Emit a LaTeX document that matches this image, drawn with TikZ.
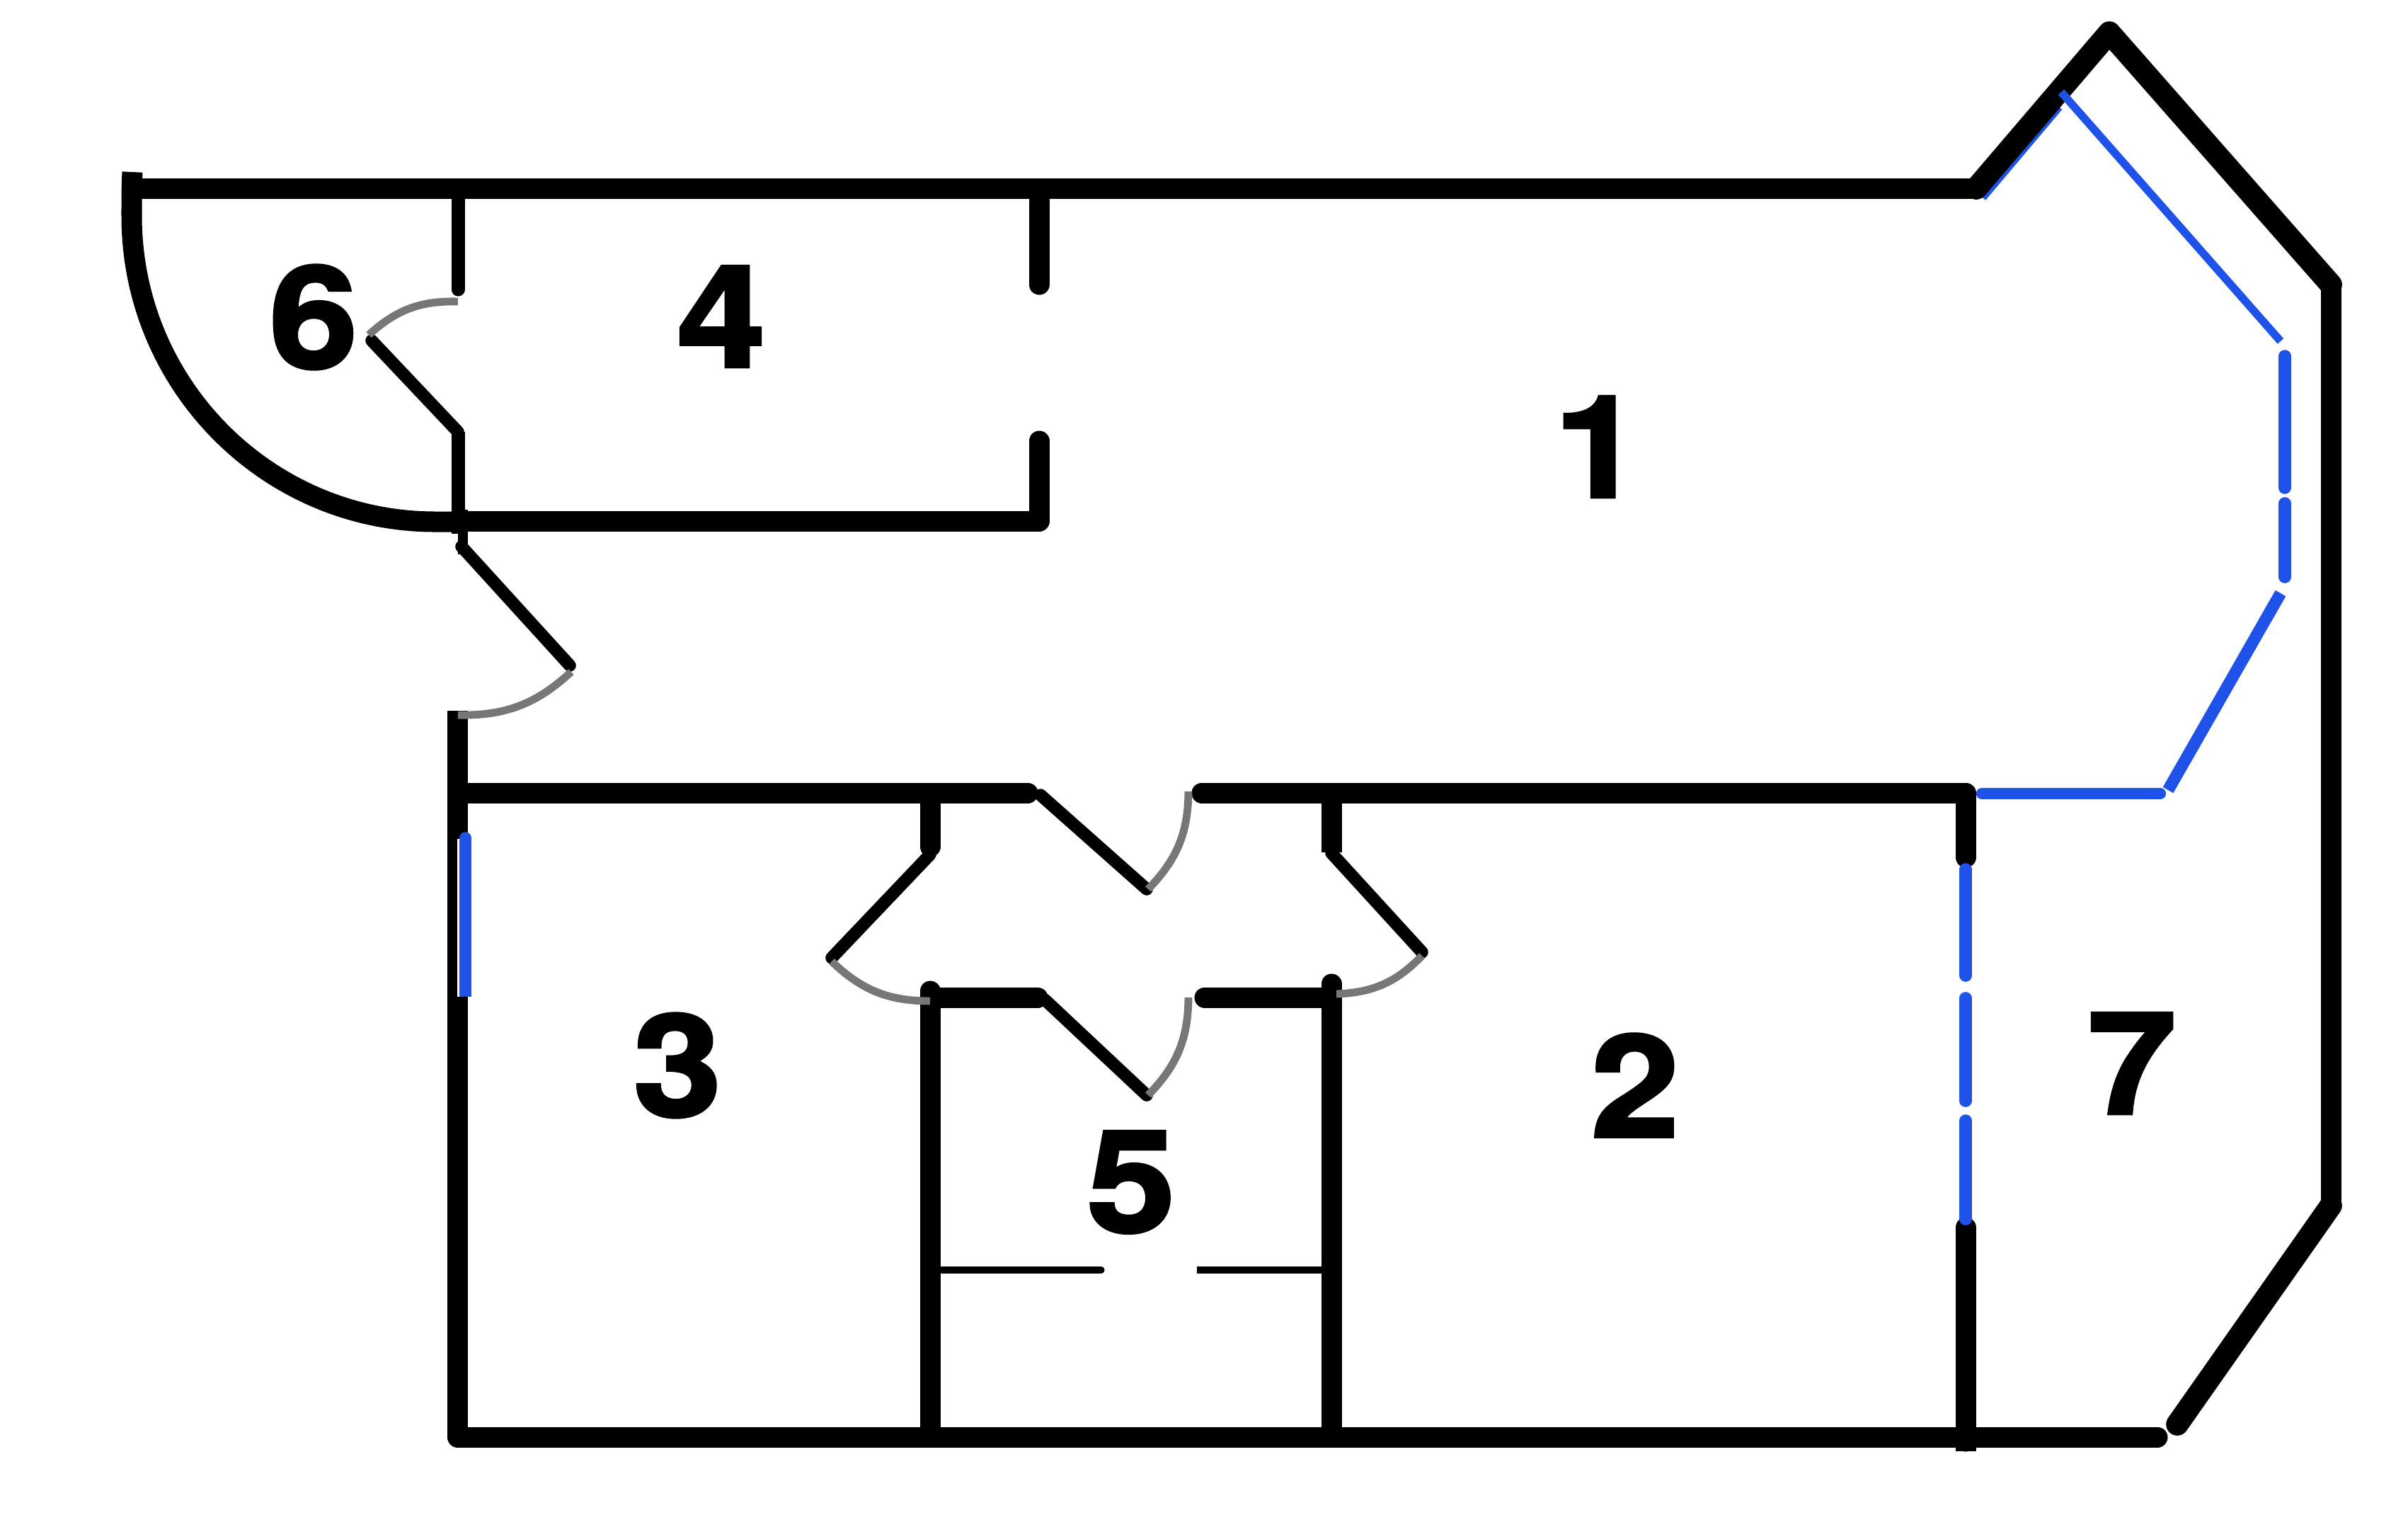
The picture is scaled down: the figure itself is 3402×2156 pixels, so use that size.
\documentclass[tikz,border=0pt]{standalone}
\usepackage{fontspec}
\newfontfamily\roomfont[BoldFeatures={FakeBold=2.2, FakeStretch=1.12}]{TeX Gyre Heros}
\definecolor{glassblue}{HTML}{1F52E8}
\definecolor{swinggray}{HTML}{777777}
\tikzset{
wall/.style={line width=8.25pt, black, line join=round},
roundwall/.style={wall, line cap=round},
diagwall/.style={line width=9pt, black, line join=round, line cap=round},
partition/.style={line width=5.4pt, black, line cap=round},
leaf/.style={line width=5pt, black, line cap=round},
thinwall/.style={line width=2.6pt, black},
swing/.style={line width=3.1pt, swinggray},
glass/.style={line width=5pt, glassblue, line cap=round},
thinglass/.style={line width=3.2pt, glassblue},
room/.style={font=\roomfont\bfseries\fontsize{57}{57}\selectfont, inner sep=0pt},
}

\begin{document}
\begin{tikzpicture}[x=0.01cm, y=-0.01cm]
\useasboundingbox (0,0) rectangle (3402,2156);
    \node[room] (room1) at (2258,631) {1};
    \node[room] (room2) at (2310,1533) {2};
    \node[room] (room3) at (957,1505) {3};
    \node[room] (room4) at (1019,447) {4};
    \node[room] (room5) at (1598,1670) {5};
    \node[room] (room6) at (443,448) {6};
    \node[room] (room7) at (3012,1502) {7};
    % glass under the outer wall
    \draw[thinglass, line width=2.4pt] (2802,280) -- (2910,152);
    % outer walls
    \draw[wall] (189,266) -- (2792,266);
    \draw[diagwall] (2792,266) -- (2980,46) -- (3293,402);
    \draw[wall] (3293,402) -- (3293,1703);
    \draw[diagwall] (3293,1703) -- (3076,2012);
    \draw[wall] (187,243) .. controls (186,262) and (186,285) .. (186,305)
        arc[start angle=180, end angle=90, x radius=429, y radius=432] -- (647,737);
    \draw[wall] (646.5,1004) -- (646.5,2030);
    \draw[roundwall] (646.5,2030) -- (3048,2030);
    % room 4 and room 6
    \draw[partition] (647,276) -- (647,409);
    \draw[partition, line cap=butt] (647,610) -- (647,754);
    \draw[partition, line cap=butt, line width=4pt] (654,720) -- (654,783);
    \draw[roundwall] (1468,280) -- (1468,402);
    \draw[roundwall] (661,736) -- (1468,736) -- (1468,623);
    \draw[leaf] (525,481) -- (647,610);
    \draw[swing] (647,426) to[bend right=22] (521,473);
    \draw[leaf] (652,772) -- (805,940);
    \draw[swing] (647,1010) to[bend right=22] (807,949);
    % middle wall
    \draw[roundwall] (646.5,1120) -- (1452,1120);
    \draw[roundwall] (1698,1120) -- (2777,1120) -- (2777,1211);
    \draw[roundwall] (1314,1132) -- (1314,1196);
    \draw[wall] (1881,1120) -- (1881,1204);
    \draw[roundwall] (2777,2036) -- (2777,1734);
    \draw[wall] (2777,2036) -- (2777,2050);
    % room 5
    \draw[roundwall] (1466,1409) -- (1328,1409);
    \draw[roundwall] (1314,1400) -- (1314,2030);
    \draw[roundwall] (1702,1409) -- (1881,1409);
    \draw[roundwall] (1881,1390) -- (1881,2030);
    \draw[thinwall, line cap=round] (1328,1794) -- (1556,1794);
    \draw[thinwall] (1691,1794) -- (1867,1794);
    % doors
    \draw[leaf] (1314,1207) -- (1175,1353);
    \draw[swing] (1175,1358) to[bend right=22] (1314,1414);
    \draw[leaf] (1470,1123) -- (1620,1256);
    \draw[swing] (1622,1256) to[bend right=22] (1679,1118);
    \draw[leaf] (1476,1412) -- (1620,1547);
    \draw[swing] (1622,1547) to[bend right=22] (1679,1409);
    \draw[leaf] (1881,1205) -- (2009,1345);
    \draw[swing] (1888,1404) to[bend right=22] (2009,1350);
    % windows
    \draw[thinglass] (2912,130) -- (3222,482);
    \draw[glass] (3228,503) -- (3228,689);
    \draw[glass] (3228,711) -- (3228,815);
    \draw[thinglass, line width=4.8pt] (3222,838) -- (3063,1116);
    \draw[glass, line width=4.6pt] (2800,1121) -- (3052,1121);
    \draw[glass] (2777,1228) -- (2777,1378);
    \draw[glass] (2777,1410) -- (2777,1555);
    \draw[glass] (2777,1583) -- (2777,1722);
    \draw[white, line width=0.8pt] (647.5,1185) -- (647.5,1408);
    \draw[glass, line cap=butt] (657.5,1184) -- (657.5,1408);
    \draw[glass] (657.5,1184) -- (657.5,1185);
\end{tikzpicture}
\end{document}
